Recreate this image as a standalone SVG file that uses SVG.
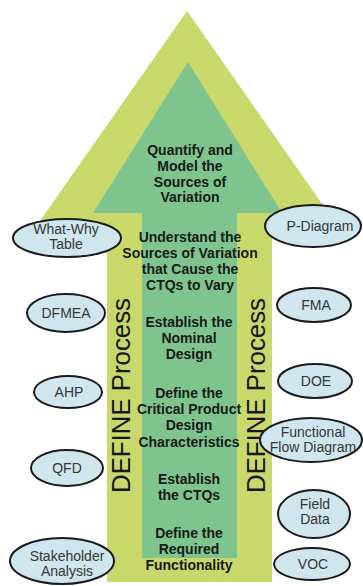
<svg xmlns="http://www.w3.org/2000/svg" width="363" height="586" viewBox="0 0 363 586">
<style>
.outer{fill:#c9d86b;}
.inner{fill:#7fc48f;}
.step{font-family:"Liberation Sans",Arial,sans-serif;font-size:14px;font-weight:bold;fill:#151a15;text-anchor:middle;}
.side{font-family:"Liberation Sans",Arial,sans-serif;font-size:25px;fill:#151515;text-anchor:middle;}
.tool ellipse{fill:#cfe6ee;stroke:#1b1b1b;stroke-width:2;}
.tool text{font-family:"Liberation Sans",Arial,sans-serif;font-size:14px;fill:#363636;text-anchor:middle;}
</style>
<rect width="363" height="586" fill="#ffffff"/>
<g id="arrow">
<polygon class="outer" points="187,11 339,228 272,228 272,582 107,582 107,228 35,228"/>
<polygon class="inner" points="188,62 282,213 237,213 237,558 142,558 142,213 93,213"/>
</g>
<g id="steps">
<text class="step"><tspan x="190" y="155">Quantify and</tspan><tspan x="190" y="171">Model the</tspan><tspan x="190" y="187">Sources of</tspan><tspan x="190" y="202">Variation</tspan></text>
<text class="step"><tspan x="190" y="242">Understand the</tspan><tspan x="190" y="258">Sources of Variation</tspan><tspan x="190" y="274">that Cause the</tspan><tspan x="190" y="290">CTQs to Vary</tspan></text>
<text class="step"><tspan x="189" y="327">Establish the</tspan><tspan x="189" y="343">Nominal</tspan><tspan x="189" y="359">Design</tspan></text>
<text class="step"><tspan x="189" y="398">Define the</tspan><tspan x="189" y="414">Critical Product</tspan><tspan x="189" y="430">Design</tspan><tspan x="189" y="447">Characteristics</tspan></text>
<text class="step"><tspan x="189" y="484">Establish</tspan><tspan x="189" y="500">the CTQs</tspan></text>
<text class="step"><tspan x="189" y="538">Define the</tspan><tspan x="189" y="554">Required</tspan><tspan x="189" y="570">Functionality</tspan></text>
</g>
<g id="define-left"><text class="side" transform="translate(130,395.5) rotate(-90)" textLength="195" lengthAdjust="spacingAndGlyphs">DEFINE Process</text></g>
<g id="define-right"><text class="side" transform="translate(265,395.5) rotate(-90)" textLength="195" lengthAdjust="spacingAndGlyphs">DEFINE Process</text></g>
<g id="what-why" class="tool"><ellipse cx="67" cy="238" rx="54" ry="19"/><text><tspan x="66" y="234">What-Why</tspan><tspan x="66" y="249">Table</tspan></text></g>
<g id="p-diagram" class="tool"><ellipse cx="313" cy="226" rx="48" ry="21"/><text x="320" y="231">P-Diagram</text></g>
<g id="dfmea" class="tool"><ellipse cx="66" cy="313" rx="39" ry="19"/><text x="66" y="318">DFMEA</text></g>
<g id="fma" class="tool"><ellipse cx="314" cy="305" rx="37" ry="17"/><text x="316" y="310">FMA</text></g>
<g id="ahp" class="tool"><ellipse cx="68" cy="392" rx="34" ry="16"/><text x="69" y="397">AHP</text></g>
<g id="doe" class="tool"><ellipse cx="315" cy="381" rx="37" ry="17"/><text x="316" y="386">DOE</text></g>
<g id="functional-flow" class="tool"><ellipse cx="311" cy="440" rx="51" ry="22"/><text><tspan x="313" y="437">Functional</tspan><tspan x="313" y="452">Flow Diagram</tspan></text></g>
<g id="qfd" class="tool"><ellipse cx="67" cy="468" rx="36" ry="18"/><text x="67" y="473">QFD</text></g>
<g id="field-data" class="tool"><ellipse cx="314" cy="514" rx="36" ry="24"/><text><tspan x="315" y="509">Field</tspan><tspan x="315" y="524">Data</tspan></text></g>
<g id="stakeholder" class="tool"><ellipse cx="62" cy="561" rx="52" ry="23"/><text><tspan x="67" y="561">Stakeholder</tspan><tspan x="67" y="576">Analysis</tspan></text></g>
<g id="voc" class="tool"><ellipse cx="312" cy="564" rx="38" ry="16"/><text x="313" y="569">VOC</text></g>
<g id="connectors"/>
</svg>
